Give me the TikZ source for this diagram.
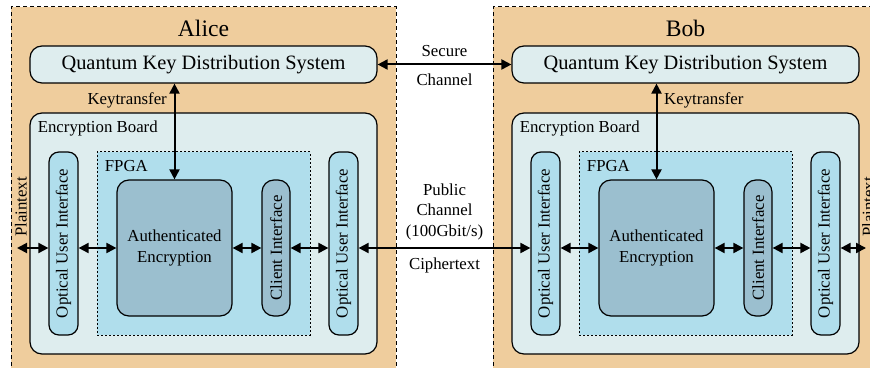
\documentclass[tikz,border=0pt]{standalone}
\usepackage{fontspec}
\usepackage{graphicx}
\setmainfont{Liberation Serif}
\usepackage{tikz}
\usetikzlibrary{arrows.meta, positioning, calc}
\definecolor{mytan}{RGB}{239,205,157}
\definecolor{myboard}{RGB}{222,237,238}
\definecolor{myfpga}{RGB}{176,222,236}
\definecolor{myae}{RGB}{155,191,207}
\newcommand{\lblsize}{\fontsize{8.4}{10.4}\selectfont}
\tikzset{
  party/.style={rectangle, draw=black, fill=mytan, dash pattern=on 2pt off 1.5pt,
    line width=0.5pt, minimum width=192.5pt, minimum height=186.5pt},
  title/.style={font=\fontsize{11.8}{14}\selectfont, inner sep=0pt},
  qkdbox/.style={rectangle, draw=black, fill=myboard, rounded corners=6pt,
    line width=0.6pt, minimum width=173.5pt, minimum height=18.5pt,
    font=\fontsize{10.2}{12}\selectfont},
  board/.style={rectangle, draw=black, fill=myboard, rounded corners=6pt,
    line width=0.6pt, minimum width=173.5pt, minimum height=120.5pt},
  fpgabox/.style={rectangle, draw=black, fill=myfpga, dash pattern=on 1pt off 1pt,
    line width=0.5pt, minimum width=106.5pt, minimum height=91.5pt},
  uibox/.style={rectangle, draw=black, fill=myfpga, rounded corners=5pt,
    line width=0.6pt, minimum width=14.5pt, minimum height=91.5pt,
    inner sep=0pt, font=\lblsize},
  aebox/.style={rectangle, draw=black, fill=myae, rounded corners=6pt,
    line width=0.6pt, minimum width=57.5pt, minimum height=68pt,
    align=center, font=\lblsize},
  cibox/.style={rectangle, draw=black, fill=myae, rounded corners=6pt,
    line width=0.6pt, minimum width=14pt, minimum height=68pt,
    inner sep=0pt, font=\lblsize},
  lbl/.style={font=\lblsize},
  darrow/.style={{Triangle[length=5pt,width=5pt]}-{Triangle[length=5pt,width=5pt]},
    line width=1pt}
}

\begin{document}
\begin{tikzpicture}[x=0.5pt, y=-0.5pt]
  \clip (0,0) rectangle (870,368);

  % Alice and Bob
  \node[party] (alice) at (203.5,193.5) {};
  \node[party] (bob) at (685.5,193.5) {};
  \node[title] (alicename) at (203.5,28) {Alice};
  \node[title] (bobname) at (685.5,28) {Bob};

  % QKD systems
  \node[qkdbox] (qkdA) at (203.5,64.5) {Quantum Key Distribution System};
  \node[qkdbox] (qkdB) at (685.5,64.5) {Quantum Key Distribution System};

  % Encryption boards
  \node[board] (boardA) at (203.5,233.5) {};
  \node[lbl, anchor=north west, inner sep=2pt] (boardlblA) at ([shift={(2pt,-2pt)}]boardA.north west) {Encryption Board};
  \node[board] (boardB) at (685.5,233.5) {};
  \node[lbl, anchor=north west, inner sep=2pt] (boardlblB) at ([shift={(2pt,-2pt)}]boardB.north west) {Encryption Board};

  % FPGAs
  \node[fpgabox] (fpgaA) at (203.5,243.5) {};
  \node[lbl, anchor=north west, inner sep=2pt] (fpgalblA) at ([shift={(2pt,-2pt)}]fpgaA.north west) {FPGA};
  \node[fpgabox] (fpgaB) at (685.5,243.5) {};
  \node[lbl, anchor=north west, inner sep=2pt] (fpgalblB) at ([shift={(2pt,-2pt)}]fpgaB.north west) {FPGA};

  % Alice board parts
  \node[uibox] (ouiA1) at (63.5,243.5) {\rotatebox{90}{Optical User Interface}};
  \node[uibox] (ouiA2) at (343.5,243.5) {\rotatebox{90}{Optical User Interface}};
  \node[aebox] (aeA) at (174.5,248) {Authenticated\\Encryption};
  \node[cibox] (ciA) at (276,248) {\rotatebox{90}{Client Interface}};

  % Bob board parts
  \node[uibox] (ouiB1) at (545.5,243.5) {\rotatebox{90}{Optical User Interface}};
  \node[uibox] (ouiB2) at (825.5,243.5) {\rotatebox{90}{Optical User Interface}};
  \node[aebox] (aeB) at (656.5,248) {Authenticated\\Encryption};
  \node[cibox] (ciB) at (758,248) {\rotatebox{90}{Client Interface}};

  % Plaintext ends
  \coordinate (ptA) at (17,248);
  \coordinate (ptB) at (866,248);
  \node[lbl, rotate=90] (ptlblA) at (21,207) {Plaintext};
  \node[lbl, rotate=90] (ptlblB) at (868,207) {Plaintext};

  % Key transfer
  \draw[darrow] (aeA.north |- qkdA.south) -- (aeA.north) node[pos=0.18, left, lbl] {Keytransfer};
  \draw[darrow] (aeB.north |- qkdB.south) -- (aeB.north) node[pos=0.18, right, lbl] {Keytransfer};

  % Secure channel
  \draw[darrow] (qkdA.east) -- (qkdB.west)
    node[midway, above, lbl] {Secure} node[midway, below, lbl, yshift=-1pt] {Channel};

  % Data path
  \draw[darrow] (ptA) -- (ptA -| ouiA1.west);
  \draw[darrow] (ouiA1.east |- aeA) -- (aeA.west);
  \draw[darrow] (aeA.east) -- (ciA.west);
  \draw[darrow] (ciA.east) -- (ciA.east -| ouiA2.west);
  \draw[darrow] (ouiA2.east |- aeA) -- (ouiB1.west |- aeA)
    node[midway, above, lbl, align=center] {Public\\Channel\\(100Gbit/s)}
    node[midway, below, lbl, yshift=-1pt] {Ciphertext};
  \draw[darrow] (ouiB1.east |- aeB) -- (aeB.west);
  \draw[darrow] (aeB.east) -- (ciB.west);
  \draw[darrow] (ciB.east) -- (ciB.east -| ouiB2.west);
  \draw[darrow] (ouiB2.east |- aeB) -- (ptB);
\end{tikzpicture}
\end{document}
